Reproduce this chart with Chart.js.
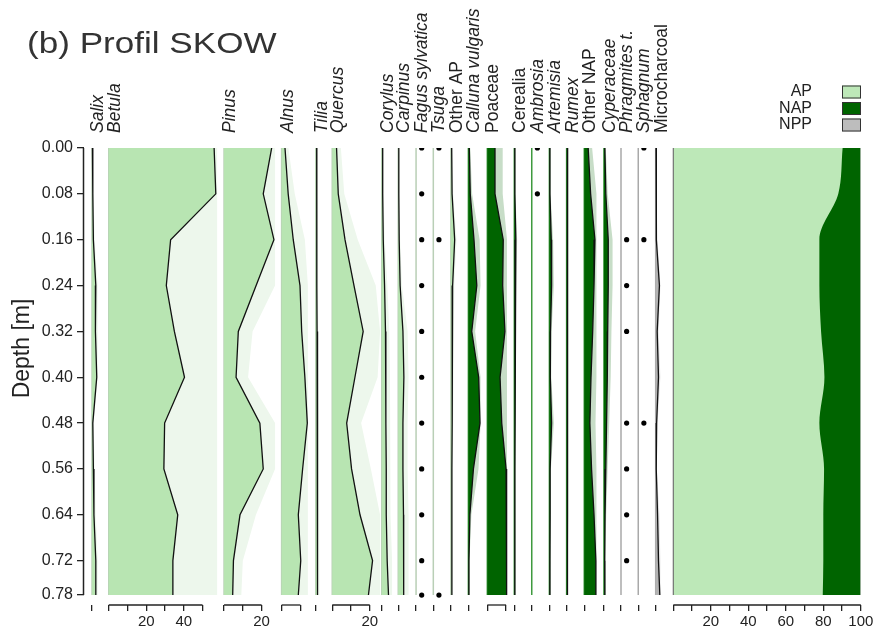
<!DOCTYPE html>
<html>
<head>
<meta charset="utf-8">
<title>(b) Profil SKOW</title>
<script src="https://cdn.jsdelivr.net/npm/chart.js@4.4.1/dist/chart.umd.min.js"></script>
<style>
    html, body { margin: 0; padding: 0; background: #fff; }
    #wrap { position: relative; width: 875px; height: 632px; }
</style>
</head>
<body>
<div id="wrap"><canvas id="pollenChart" width="875" height="632"></canvas></div>
<script>
// ---------- Data (percent per sample depth) ----------
const depths = [0.00, 0.08, 0.16, 0.24, 0.32, 0.40, 0.48, 0.56, 0.64, 0.72, 0.78];

const salix         = [0.2, 0.4, 0.7, 2.0, 1.8, 2.5, 0.4, 0.7, 1.0, 2.0, 2.0];
const betula        = [56.2, 57.1, 33.0, 30.7, 35.0, 40.4, 29.8, 29.4, 36.8, 34.2, 34.2];
const pinus         = [25.4, 20.9, 26.6, 17.1, 7.6, 6.4, 19.1, 20.9, 8.5, 5.0, 4.6];
const alnus         = [1.8, 3.5, 6.2, 9.8, 10.7, 12.4, 13.7, 11.2, 8.9, 10.2, 8.9];
const tilia         = [0.5, 0.5, 0.6, 0.6, 0.7, 0.8, 0.9, 0.9, 0.9, 1.1, 1.1];
const quercus       = [2.3, 3.2, 6.8, 11.6, 16.5, 12.1, 7.7, 10.3, 14.8, 21.5, 19.3];
const corylus       = [0.5, 0.5, 0.8, 1.5, 2.0, 2.2, 2.2, 2.4, 2.4, 2.9, 3.6];
const carpinus      = [0.3, 0.3, 0.5, 1.0, 2.5, 3.0, 2.5, 2.5, 2.8, 2.8, 3.0];
const otherAP       = [0.4, 0.6, 2.0, 0.9, 0.8, 0.6, 0.6, 0.5, 0.5, 0.5, 0.5];
const calluna       = [0.5, 1.0, 3.0, 4.5, 1.8, 5.5, 6.2, 2.7, 0.8, 0.3, 0.3];
const poaceae       = [4.1, 4.1, 8.5, 8.2, 9.4, 6.8, 7.7, 10.0, 10.3, 10.3, 10.3];
const cerealia      = [0.3, 0.3, 0.8, 0.5, 0.4, 0.4, 0.4, 0.3, 0.3, 0.3, 0.3];
const artemisia     = [0.3, 0.3, 1.0, 1.2, 0.6, 0.5, 1.2, 0.4, 0.4, 0.3, 0.3];
const rumex         = [0.5, 0.5, 0.6, 0.5, 0.5, 0.5, 0.5, 0.4, 0.4, 0.3, 0.3];
const otherNAP      = [2.1, 3.4, 5.7, 5.2, 4.5, 3.6, 3.0, 3.9, 5.2, 6.2, 6.2];
const cyperaceae    = [0.5, 1.0, 2.3, 2.3, 2.0, 1.8, 1.4, 1.0, 0.6, 0.4, 0.5];
const microcharcoal = [0.2, 0.2, 0.5, 2.0, 0.8, 1.5, 0.5, 0.3, 1.0, 1.5, 2.2];

// presence only (1 = found, plotted as a dot)
const fagus      = [1, 1, 1, 1, 1, 1, 1, 1, 1, 1, 1];
const tsuga      = [1, 0, 1, 0, 0, 0, 0, 0, 0, 0, 1];
const ambrosia   = [1, 1, 0, 0, 0, 0, 0, 0, 0, 0, 0];
const phragmites = [0, 0, 1, 1, 1, 0, 1, 1, 1, 1, 0];
const sphagnum   = [1, 0, 1, 0, 0, 0, 1, 0, 0, 0, 0];

// summary diagram
const sumAP  = [90.3, 88.0, 77.9, 77.9, 78.8, 80.6, 77.9, 80.4, 80.0, 80.0, 79.7];
const sumNAP = [9.4, 11.7, 21.8, 21.8, 20.9, 19.1, 21.8, 19.3, 19.7, 19.7, 20.0];
const sumNPP = [0.3, 0.3, 0.3, 0.3, 0.3, 0.3, 0.3, 0.3, 0.3, 0.3, 0.3];
const sumLabels = ['AP', 'NAP', 'NPP'];

// ---------- Layout (x in % units, 1.875 px each) ----------
const X_MAX = 416;
const LABEL_SHIFT = 14.5;   // header label anchor, right of panel zero
const DOT_X = 3;
const EXAG = 2;
const FONT = 'Arial, "Liberation Sans", Helvetica, sans-serif';

const groupStyle = {
    AP:  { fill: '#b8e5b2', exag: '#edf7ec', base: '#b9cfb6' },
    NAP: { fill: '#006400', exag: '#c7ddc7', base: '#3f9a3f' },
    NPP: { fill: '#b3b3b3', exag: '#e4e4e4', base: '#a9a9a9' },
};
const sumColors = ['#bde8b8', '#006400', '#bdbdbd'];

const panels = [
    { name: 'Salix',            group: 'AP',  values: salix,     off: 4.3,   w: 3,    ticks: [0], italic: true },
    { name: 'Betula',           group: 'AP',  values: betula,    off: 13.2,  w: 57.8, ticks: [0, 10, 20, 30, 40, 50], labels: [20, 40], italic: true },
    { name: 'Pinus',            group: 'AP',  values: pinus,     off: 74.7,  w: 27.2, ticks: [0, 10, 20], labels: [20], italic: true },
    { name: 'Alnus',            group: 'AP',  values: alnus,     off: 105.4, w: 14,   ticks: [0, 10], italic: true },
    { name: 'Tilia',            group: 'AP',  values: tilia,     off: 123.6, w: 3,    ticks: [0], italic: true },
    { name: 'Quercus',          group: 'AP',  values: quercus,   off: 132.4, w: 25.5, ticks: [0, 10, 20], labels: [20], italic: true },
    { name: 'Corylus',          group: 'AP',  values: corylus,   off: 158.8, w: 5.5,  ticks: [0], italic: true },
    { name: 'Carpinus',         group: 'AP',  values: carpinus,  off: 167.6, w: 5.5,  ticks: [0], italic: true },
    { name: 'Fagus sylvatica',  group: 'AP',  presence: fagus,   off: 177.1, ticks: [0], italic: true },
    { name: 'Tsuga',            group: 'AP',  presence: tsuga,   off: 186.3, ticks: [0], italic: true },
    { name: 'Other AP',         group: 'AP',  values: otherAP,   off: 195.7, w: 3,    ticks: [0], italic: false },
    { name: 'Calluna vulgaris', group: 'NAP', values: calluna,   off: 205.0, w: 6.5,  ticks: [0], italic: true },
    { name: 'Poaceae',          group: 'NAP', values: poaceae,   off: 215.1, w: 10.5, ticks: [0, 10], italic: false },
    { name: 'Cerealia',         group: 'NAP', values: cerealia,  off: 229.5, w: 1.5,  ticks: [0], italic: false },
    { name: 'Ambrosia',         group: 'NAP', presence: ambrosia, off: 238.8, ticks: [0], italic: true },
    { name: 'Artemisia',        group: 'NAP', values: artemisia, off: 248.2, w: 2.5,  ticks: [0], italic: true },
    { name: 'Rumex',            group: 'NAP', values: rumex,     off: 257.4, w: 1.5,  ticks: [0], italic: true },
    { name: 'Other NAP',        group: 'NAP', values: otherNAP,  off: 266.8, w: 6.5,  ticks: [0], italic: false },
    { name: 'Cyperaceae',       group: 'NAP', values: cyperaceae, off: 277.3, w: 4.8, ticks: [0], italic: true },
    { name: 'Phragmites t.',    group: 'NPP', presence: phragmites, off: 286.4, ticks: [0], italic: true },
    { name: 'Sphagnum',         group: 'NPP', presence: sphagnum, off: 295.6, ticks: [0], italic: true },
    { name: 'Microcharcoal',    group: 'NPP', values: microcharcoal, off: 304.9, w: 2.5, ticks: [0], italic: false },
];
const summary = { off: 314.3, ticks: [0, 10, 20, 30, 40, 50, 60, 70, 80, 90, 100], labels: [20, 40, 60, 80, 100] };

// ---------- Datasets ----------
const datasets = [];

panels.forEach(p => {
    const st = groupStyle[p.group];
    // zero line of the panel
    datasets.push({
        data: depths.map(d => ({ x: p.off, y: d })),
        borderColor: st.base, borderWidth: 1.5, fill: false, order: 2,
    });
    if (p.presence) {
        datasets.push({
            data: depths.map(d => ({ x: p.off + DOT_X, y: d })).filter((pt, i) => p.presence[i]),
            showLine: false, pointRadius: 2.6, pointBackgroundColor: '#000', pointBorderWidth: 0, order: 0,
        });
        return;
    }
    datasets.push({
        data: depths.map((d, i) => ({ x: p.off + p.values[i], y: d })),
        borderColor: '#111', borderWidth: 1.3, backgroundColor: st.fill,
        fill: { value: p.off }, order: 1,
    });
    // exaggerated curve, cut at the panel width
    datasets.push({
        data: depths.map((d, i) => ({ x: p.off + Math.min(p.values[i] * EXAG, p.w), y: d })),
        borderWidth: 0, borderColor: 'rgba(0,0,0,0)', backgroundColor: st.exag,
        fill: { value: p.off }, order: 3,
    });
});

// stacked summary (cumulative AP, AP+NAP, AP+NAP+NPP)
const sumSeries = [sumAP, sumNAP, sumNPP];
sumSeries.forEach((arr, k) => {
    datasets.push({
        label: sumLabels[k],
        data: depths.map((d, i) => ({
            x: summary.off + sumSeries.slice(0, k + 1).reduce((s, a) => s + a[i], 0),
            y: d,
        })),
        borderWidth: 0, borderColor: 'rgba(0,0,0,0)', backgroundColor: sumColors[k],
        fill: { value: summary.off }, cubicInterpolationMode: 'monotone', order: 4 + k,
    });
});
datasets.push({
    data: depths.map(d => ({ x: summary.off, y: d })),
    borderColor: '#777', borderWidth: 1.2, fill: false, order: 2,
});

// bottom axis ticks (panel scales) and header labels
const bottomTicks = [...panels, summary].flatMap(p =>
    p.ticks.map(t => ({ value: p.off + t, text: (p.labels || []).includes(t) ? String(t) : '' })));
const headerTicks = panels.map(p => ({ value: p.off + LABEL_SHIFT }));

// ---------- Overlay: title, depth label, legend, panel brackets ----------
const overlay = {
    id: 'overlay',
    afterDraw(chart) {
        const { ctx, chartArea, scales: { x, y } } = chart;
        ctx.save();

        // depth axis line (0.00 - 0.78)
        ctx.strokeStyle = '#222';
        ctx.lineWidth = 1.5;
        ctx.beginPath();
        ctx.moveTo(chartArea.left - 0.5, y.getPixelForValue(depths[0]));
        ctx.lineTo(chartArea.left - 0.5, y.getPixelForValue(depths[depths.length - 1]));
        ctx.stroke();

        // horizontal part of each panel scale
        ctx.lineWidth = 1.3;
        [...panels, summary].forEach(p => {
            if (p.ticks.length < 2) return;
            ctx.beginPath();
            ctx.moveTo(x.getPixelForValue(p.off + p.ticks[0]), chartArea.bottom);
            ctx.lineTo(x.getPixelForValue(p.off + p.ticks[p.ticks.length - 1]), chartArea.bottom);
            ctx.stroke();
        });

        // title
        ctx.fillStyle = '#333';
        ctx.font = '29px ' + FONT;
        ctx.textAlign = 'left';
        ctx.textBaseline = 'alphabetic';
        ctx.save();
        ctx.translate(27, 53);
        ctx.scale(1.21, 1);
        ctx.fillText('(b) Profil SKOW', 0, 0);
        ctx.restore();

        // depth axis title
        ctx.save();
        ctx.translate(22.5, 348.5);
        ctx.rotate(-Math.PI / 2);
        ctx.font = '23px ' + FONT;
        ctx.fillStyle = '#222';
        ctx.textAlign = 'center';
        ctx.textBaseline = 'middle';
        ctx.fillText('Depth [m]', 0, 0);
        ctx.restore();

        // legend
        ctx.font = '16px ' + FONT;
        ctx.textAlign = 'right';
        ctx.textBaseline = 'middle';
        sumLabels.forEach((lab, k) => {
            const cy = 92 + k * 16.5;
            ctx.fillStyle = '#222';
            ctx.fillText(lab, 812, cy);
            ctx.fillStyle = sumColors[k];
            ctx.fillRect(842, cy - 6.5, 19, 13);
            ctx.strokeStyle = '#333';
            ctx.lineWidth = 1;
            ctx.strokeRect(842.5, cy - 6, 18, 12);
        });
        ctx.restore();
    },
};

// ---------- Chart ----------
new Chart(document.getElementById('pollenChart'), {
    type: 'line',
    data: { datasets },
    options: {
        responsive: false,
        animation: false,
        devicePixelRatio: 1,
        indexAxis: 'y',
        layout: { padding: { left: 0, right: 11, top: 0, bottom: 0 } },
        elements: { point: { radius: 0 }, line: { tension: 0 } },
        plugins: {
            legend: { display: false },
            tooltip: { enabled: false },
        },
        scales: {
            x: {
                type: 'linear', position: 'bottom', min: 0, max: X_MAX,
                afterBuildTicks: s => { s.ticks = bottomTicks.map(t => ({ value: t.value })); },
                afterFit: s => { s.height = 27; s.paddingLeft = 0; s.paddingRight = 0; },
                ticks: {
                    autoSkip: false, maxRotation: 0, padding: 2, color: '#222',
                    font: { family: FONT, size: 15 },
                    callback: (v, i) => bottomTicks[i] ? bottomTicks[i].text : '',
                },
                grid: { drawOnChartArea: false, drawTicks: true, tickLength: 6, color: '#222', lineWidth: 1.3 },
                border: { display: false },
            },
            xTop: {
                type: 'linear', axis: 'x', position: 'top', min: 0, max: X_MAX,
                afterBuildTicks: s => { s.ticks = headerTicks.map(t => ({ value: t.value })); },
                afterFit: s => { s.height = 148; s.paddingLeft = 0; s.paddingRight = 0; },
                ticks: {
                    autoSkip: false, minRotation: 90, maxRotation: 90, padding: 15, color: '#222',
                    font: c => ({ family: FONT, size: 17.5, style: panels[c.index] && panels[c.index].italic ? 'italic' : 'normal' }),
                    callback: (v, i) => panels[i] ? panels[i].name : '',
                },
                grid: { display: false, drawTicks: false },
                border: { display: false },
            },
            y: {
                type: 'linear', position: 'left', reverse: true, min: 0, max: 0.7974,
                afterBuildTicks: s => { s.ticks = depths.map(d => ({ value: d })); },
                afterFit: s => { s.width = 84; s.paddingTop = 0; s.paddingBottom = 0; },
                ticks: {
                    autoSkip: false, padding: 4, color: '#222',
                    font: { family: FONT, size: 16 },
                    callback: v => v.toFixed(2),
                },
                grid: { drawOnChartArea: false, drawTicks: true, tickLength: 7, color: '#222', lineWidth: 1.3 },
                border: { display: false },
            },
        },
    },
    plugins: [overlay],
});
</script>
</body>
</html>
